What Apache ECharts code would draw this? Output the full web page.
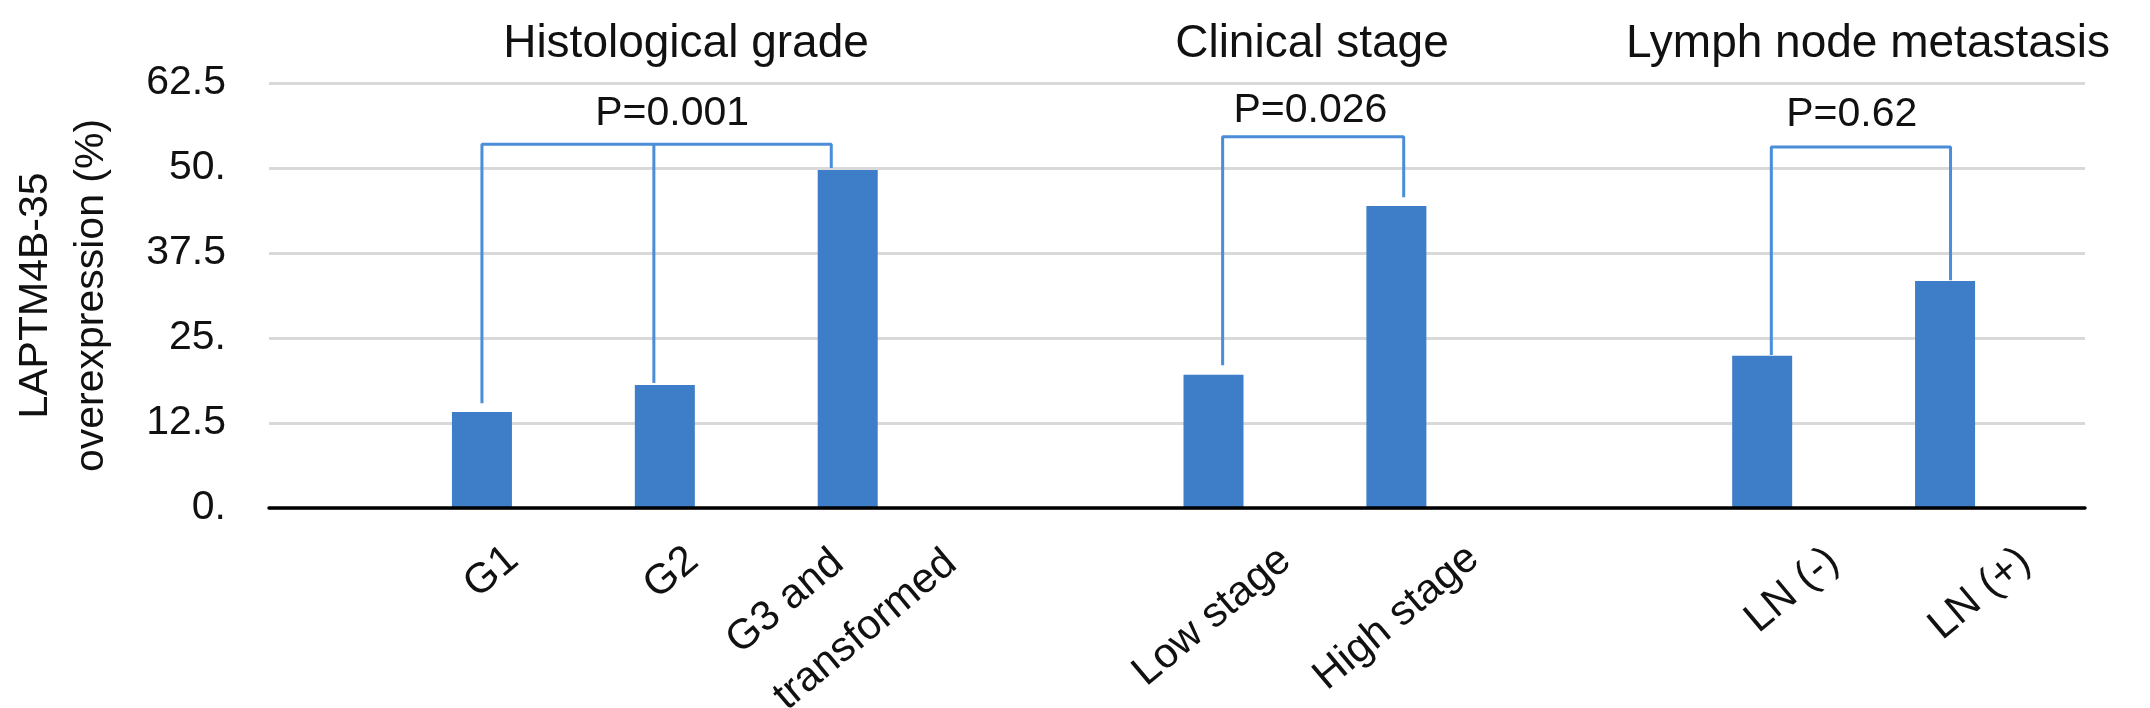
<!DOCTYPE html>
<html>
<head>
<meta charset="utf-8">
<script src="https://cdn.jsdelivr.net/npm/echarts@6/dist/echarts.min.js"></script>
<style>
html,body{margin:0;padding:0;background:#ffffff;}
#c{width:2150px;height:708px;}
</style>
</head>
<body>
<div id="c"></div>
<script>
// ---------- data ----------
const categories = ['G1', 'G2', 'G3 and\ntransformed', '', 'Low stage', 'High stage', '', 'LN (-)', 'LN (+)'];
const overexpression = [14.1, 18.1, 49.7, null, 19.6, 44.4, null, 22.4, 33.4];
const yTickLabels = ['0.', '12.5', '25.', '37.5', '50.', '62.5'];
const groupTitles = ['Histological grade', 'Clinical stage', 'Lymph node metastasis'];
const pValueTexts = ['P=0.001', 'P=0.026', 'P=0.62'];
const pValueAt = [[1.04, 58.0], [4.53, 58.5], [7.49, 57.8]];
const bracketPaths = [
  [[0.00, 15.4], [0.00, 53.5], [1.91, 53.5], [1.91, 50.0]],
  [[0.94, 53.5], [0.94, 18.4]],
  [[4.05, 21.0], [4.05, 54.6], [5.04, 54.6], [5.04, 45.7]],
  [[7.05, 22.5], [7.05, 53.1], [8.03, 53.1], [8.03, 33.5]]
];

// ---------- styles / layout ----------
const FONT = '"Liberation Sans", Arial, Helvetica, sans-serif';
const TEXT = '#111111';
const BAR = '#3e7ec8';
const BRACKET = '#4b8dd8';
const ROT = 40;
const rad = ROT * Math.PI / 180;
// screen shift of each rotated x label anchor (right-middle) from its tick on the axis
const xLabelShift = [[31, 46], [28, 47], [86, 17], null, [72, 47], [77, 45], null, [71, 48], [80, 48]];
const titleCenters = [686, 1312, 1868];
const titleY = 44;

function rotOffset(d) {
  return [d[0] * Math.cos(rad) - d[1] * Math.sin(rad), d[0] * Math.sin(rad) + d[1] * Math.cos(rad)];
}

const xLabelData = [];
categories.forEach(function (c, i) {
  if (!c) return;
  const item = { name: c, value: [i, 0], label: { offset: rotOffset(xLabelShift[i]) } };
  if (c.indexOf('\n') >= 0) {
    item.label.formatter = c.split('\n').map(function (s) { return '{a|' + s + '}'; }).join('\n');
    item.label.rich = { a: { width: 232, align: 'left', lineHeight: 73, fontSize: 42, color: TEXT, fontFamily: FONT } };
  }
  xLabelData.push(item);
});

const pData = pValueTexts.map(function (t, i) { return { name: t, value: pValueAt[i] }; });

const series = [
  {
    type: 'bar', xAxisIndex: 1, yAxisIndex: 1, data: overexpression,
    barWidth: 60, itemStyle: { color: BAR }, z: 3, silent: true
  }
];
bracketPaths.forEach(function (p) {
  series.push({
    type: 'line', xAxisIndex: 2, yAxisIndex: 1, data: p, symbol: 'none',
    lineStyle: { color: BRACKET, width: 3 }, z: 4, silent: true, clip: false
  });
});
series.push({
  type: 'scatter', xAxisIndex: 2, yAxisIndex: 1, symbolSize: 0, data: pData, clip: false, silent: true,
  itemStyle: { opacity: 1 },
  label: { show: true, position: 'inside', formatter: '{b}', fontSize: 41, color: TEXT, fontFamily: FONT,
    opacity: 1, textBorderWidth: 0, align: 'center', verticalAlign: 'middle' }
});
series.push({
  type: 'scatter', xAxisIndex: 2, yAxisIndex: 1, symbolSize: 0, data: xLabelData, clip: false, silent: true,
  itemStyle: { opacity: 1 },
  label: { show: true, position: 'inside', formatter: '{b}', rotate: ROT, align: 'right', verticalAlign: 'middle',
    fontSize: 42, color: TEXT, fontFamily: FONT, opacity: 1, textBorderWidth: 0 }
});

const option = {
  animation: false,
  backgroundColor: '#ffffff',
  textStyle: { fontFamily: FONT },
  grid: [
    { left: 263, right: 65, top: 83, bottom: 200 },
    { left: 390.5, right: 113.5, top: 83, bottom: 200 }
  ],
  xAxis: [
    { gridIndex: 0, type: 'category', data: [''], axisLine: { lineStyle: { color: '#000000', width: 3.5 } },
      axisTick: { show: false }, axisLabel: { show: false }, z: 6 },
    { gridIndex: 1, type: 'category', data: categories, axisLine: { show: false }, axisTick: { show: false },
      axisLabel: { show: false }, splitLine: { show: false } },
    { gridIndex: 1, type: 'value', min: -0.5, max: 8.5, show: false, splitLine: { show: false } }
  ],
  yAxis: [
    { gridIndex: 0, type: 'value', min: 0, max: 62.5, interval: 12.5,
      name: 'LAPTM4B-35\noverexpression (%)', nameLocation: 'middle', nameGap: 149,
      nameTextStyle: { fontSize: 41, color: TEXT, lineHeight: 56, fontFamily: FONT },
      axisLine: { show: false }, axisTick: { show: false },
      axisLabel: { fontSize: 41, color: TEXT, margin: 43, fontFamily: FONT,
        formatter: function (v) { return yTickLabels[Math.round(v / 12.5)]; } },
      splitLine: { lineStyle: { color: '#d9d9d9', width: 3 } } },
    { gridIndex: 1, type: 'value', min: 0, max: 62.5, interval: 12.5, show: false, splitLine: { show: false } }
  ],
  graphic: groupTitles.map(function (t, i) {
    return { type: 'text', x: titleCenters[i], y: titleY, silent: true,
      style: { text: t, align: 'center', verticalAlign: 'middle', fontSize: 46, fontFamily: FONT, fill: TEXT } };
  }),
  series: series
};

const chart = echarts.init(document.getElementById('c'));
chart.setOption(option);
</script>
</body>
</html>
